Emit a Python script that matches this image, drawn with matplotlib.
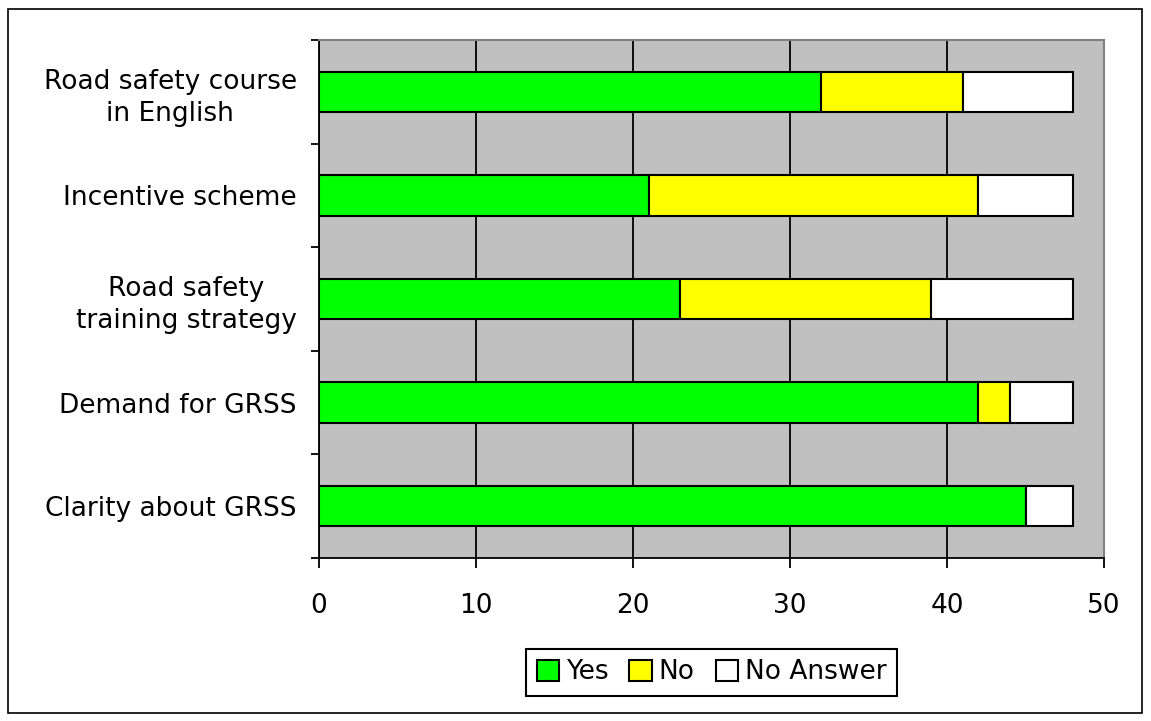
import numpy as np
import matplotlib.pyplot as plt
from matplotlib.patches import Rectangle

categories = ["Clarity about GRSS", "Demand for GRSS", "Road safety\ntraining strategy",
              "Incentive scheme", "Road safety course\nin English"]
yes = [45, 42, 23, 21, 32]
no = [0, 2, 16, 21, 9]
no_answer = [3, 4, 9, 6, 7]

plt.rcParams['font.family'] = ['DejaVu Sans']
plt.rcParams['font.size'] = 19

fig = plt.figure(figsize=(11.51, 7.21), dpi=100)
fig.patches.append(Rectangle((8 / 1151, 8 / 721), 1134 / 1151, 704 / 721, transform=fig.transFigure,
                             fill=False, edgecolor='black', linewidth=1.2))
ax = fig.add_axes([319 / 1151, 163 / 721, 785 / 1151, 518 / 721])
ax.set_facecolor('#c0c0c0')

y = np.arange(len(categories))
h = 0.39
yes_a = np.array(yes)
no_a = np.array(no)
na_a = np.array(no_answer)
ax.barh(y, yes_a, height=h, color='#00ff00', edgecolor='black', linewidth=1.5, label='Yes', zorder=3)
ax.barh(y, no_a, left=yes_a, height=h, color='#ffff00', edgecolor='black', linewidth=1.5, label='No', zorder=3)
ax.barh(y, na_a, left=yes_a + no_a, height=h, color='white', edgecolor='black', linewidth=1.5,
        label='No Answer', zorder=3)

ax.set_xlim(0, 50)
ax.set_ylim(-0.5, len(categories) - 0.5)
ax.set_xticks(range(0, 51, 10))
ax.xaxis.grid(True, color='black', linewidth=1.3, zorder=0)
ax.set_axisbelow(True)
ax.set_yticks(y)
ax.set_yticklabels(categories, ha='right', multialignment='center', linespacing=1.3)
ax.tick_params(axis='y', length=0, pad=16)
ax.set_yticks(np.arange(-0.5, len(categories)), minor=True)
ax.tick_params(axis='y', which='minor', length=6, width=1.3, direction='out')
ax.tick_params(axis='x', length=7, width=1.3, direction='out', pad=18)
for s in ['left', 'bottom']:
    ax.spines[s].set_color('black')
    ax.spines[s].set_linewidth(1.3)
for s in ['top', 'right']:
    ax.spines[s].set_color('#808080')
    ax.spines[s].set_linewidth(1.5)

leg = ax.legend(loc='upper center', bbox_to_anchor=(0.5, -0.175), ncol=3, frameon=True, fancybox=False,
                edgecolor='black', framealpha=1, handlelength=0.85, handleheight=0.85, handletextpad=0.25,
                columnspacing=0.8, borderpad=0.4, borderaxespad=0, fontsize=19)
leg.get_frame().set_linewidth(1.5)

fig.savefig('out.png', dpi=100)
